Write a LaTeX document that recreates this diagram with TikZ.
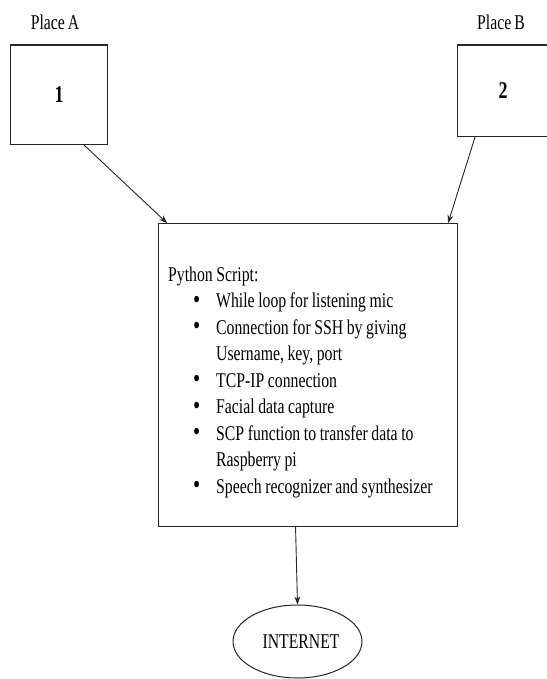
\documentclass[tikz,border=0pt]{standalone}
\usepackage{fontspec}
\usetikzlibrary{arrows.meta,shapes.geometric}
\newfontfamily\tf[FakeStretch=0.75,WordSpace=0.75]{Liberation Serif}
\newcommand{\bitem}{\par\noindent\llap{\makebox[23pt][l]{\raisebox{-0.5pt}{\fontsize{27}{27}\selectfont •}}}}
\begin{document}
\begin{tikzpicture}[x=1pt,y=-1pt,
  every node/.style={font=\tf\fontsize{21}{26.5}\selectfont},
  boxstyle/.style={draw=black!85, line width=1.1pt, rectangle, inner sep=0pt},
  arr/.style={draw=black!85, line width=0.9pt, -{Stealth[length=8pt,width=6pt]}},
  lbl/.style={inner sep=0pt}]
\useasboundingbox (0,0) rectangle (546,679);
\fill[white] (0,0) rectangle (546,679);
% labels
\node[lbl] (pa) at (55,22) {Place A};
\node[lbl] (pb) at (501,22) {Place B};
% top boxes
\node[boxstyle, anchor=north west, minimum width=97pt, minimum height=99.5pt] (b1) at (10,44.5) {\fontsize{24}{24}\selectfont\bfseries 1};
\node[boxstyle, anchor=north west, minimum width=91pt, minimum height=91.5pt] (b2) at (457,44.5) {\fontsize{24}{24}\selectfont\bfseries 2};
% script box
\node[boxstyle, anchor=north west, minimum width=299pt, minimum height=303pt] (script) at (158,223) {};
\node[lbl, anchor=north west, text width=285pt, align=left] (txt) at (168,266.5) {%
\spaceskip=3.6pt plus 1pt minus 0.5pt
\noindent Python Script:\par
{\leftskip=48pt\parindent=0pt
\bitem While loop for listening mic
\bitem Connection for SSH by giving\newline Username, key, port
\bitem TCP-IP connection
\bitem Facial data capture
\bitem SCP function to transfer data to\newline Raspberry pi
\bitem Speech recognizer and synthesizer\par}};
% internet
\node[draw=black!85, line width=1pt, ellipse, minimum width=129pt, minimum height=73pt, inner sep=0pt] (inet) at (297.5,641.5) {\raisebox{-2pt}{\hspace{7pt}INTERNET}};
% connectors
\draw[arr] ([xshift=-24pt]b1.south east) -- ([xshift=9pt]script.north west);
\draw[arr] ([xshift=18pt]b2.south west) -- ([xshift=-10pt]script.north east);
\draw[arr] ([xshift=-12.5pt]script.south) -- (inet.north);
\end{tikzpicture}
\end{document}
